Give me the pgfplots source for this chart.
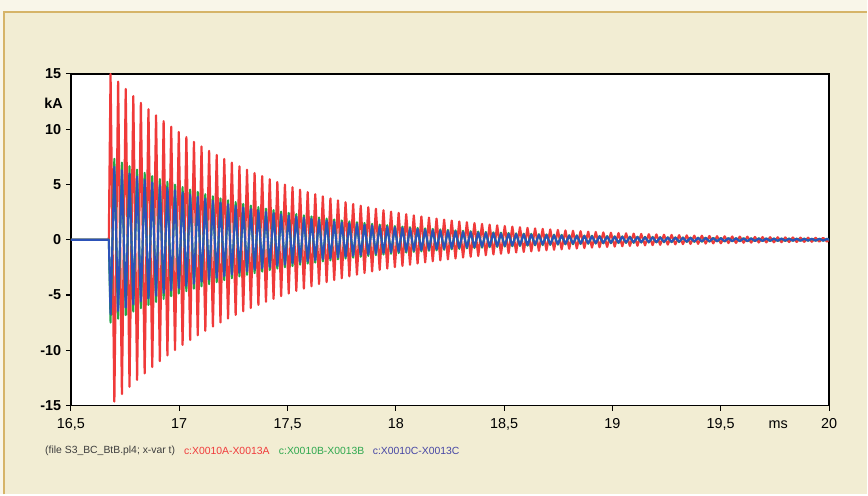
\documentclass[border=0pt]{standalone}
\usepackage{fontspec}
\setmainfont{Liberation Sans}
\usepackage{pgfplots}
\usepackage{pgfplotstable}
\pgfplotsset{compat=1.18}

\definecolor{bgbeige}{RGB}{242,237,211}
\definecolor{bgedge}{RGB}{249,246,233}
\definecolor{gold}{RGB}{214,180,104}
\definecolor{wred}{RGB}{240,58,58}
\definecolor{wgreen}{RGB}{34,166,72}
\definecolor{wblue}{RGB}{44,82,184}

% t in ms, currents in kA (peaks and troughs of each half cycle)
\pgfplotstableread{
t r g b
16.5 0 0 0
16.675 0 0 0
16.683 15.00 -7.50 -6.75
16.7005 -14.64 7.32 6.59
16.718 14.30 -7.15 -6.44
16.7355 -13.96 6.98 6.28
16.753 13.63 -6.82 -6.13
16.7705 -13.31 6.66 5.99
16.788 12.99 -6.50 -5.85
16.8055 -12.68 6.34 5.71
16.823 12.38 -6.19 -5.57
16.8405 -12.09 6.05 5.44
16.858 11.80 -5.90 -5.31
16.8755 -11.52 5.76 5.18
16.893 11.25 -5.63 -5.06
16.9105 -10.98 5.49 4.94
16.928 10.72 -5.36 -4.82
16.9455 -10.47 5.24 4.71
16.963 10.22 -5.11 -4.60
16.9805 -9.98 4.99 4.49
16.998 9.74 -4.87 -4.38
17.0155 -9.51 4.76 4.28
17.033 9.29 -4.65 -4.18
17.0505 -9.07 4.54 4.08
17.068 8.85 -4.43 -3.98
17.0855 -8.64 4.32 3.89
17.103 8.44 -4.22 -3.80
17.1205 -8.24 4.12 3.71
17.138 8.04 -4.02 -3.62
17.1555 -7.85 3.93 3.53
17.173 7.67 -3.84 -3.45
17.1905 -7.48 3.74 3.37
17.208 7.31 -3.66 -3.29
17.2255 -7.13 3.57 3.21
17.243 6.97 -3.49 -3.14
17.2605 -6.80 3.40 3.06
17.278 6.64 -3.32 -2.99
17.2955 -6.48 3.24 2.92
17.313 6.33 -3.17 -2.85
17.3305 -6.18 3.09 2.78
17.348 6.03 -3.02 -2.71
17.3655 -5.89 2.95 2.65
17.383 5.75 -2.88 -2.59
17.4005 -5.61 2.81 2.52
17.418 5.48 -2.74 -2.47
17.4355 -5.35 2.68 2.41
17.453 5.22 -2.61 -2.35
17.4705 -5.10 2.55 2.30
17.488 4.98 -2.49 -2.24
17.5055 -4.86 2.43 2.19
17.523 4.75 -2.38 -2.14
17.5405 -4.63 2.32 2.08
17.558 4.52 -2.26 -2.03
17.5755 -4.42 2.21 1.99
17.593 4.31 -2.16 -1.94
17.6105 -4.21 2.11 1.89
17.628 4.11 -2.06 -1.85
17.6455 -4.01 2.01 1.80
17.663 3.92 -1.96 -1.76
17.6805 -3.83 1.92 1.72
17.698 3.73 -1.87 -1.68
17.7155 -3.65 1.83 1.64
17.733 3.56 -1.78 -1.60
17.7505 -3.48 1.74 1.57
17.768 3.39 -1.70 -1.53
17.7855 -3.31 1.66 1.49
17.803 3.23 -1.62 -1.45
17.8205 -3.16 1.58 1.42
17.838 3.08 -1.54 -1.39
17.8555 -3.01 1.51 1.35
17.873 2.94 -1.47 -1.32
17.8905 -2.87 1.44 1.29
17.908 2.80 -1.40 -1.26
17.9255 -2.73 1.37 1.23
17.943 2.67 -1.34 -1.20
17.9605 -2.61 1.31 1.17
17.978 2.54 -1.27 -1.14
17.9955 -2.48 1.24 1.12
18.013 2.43 -1.22 -1.09
18.0305 -2.37 1.19 1.07
18.048 2.31 -1.16 -1.04
18.0655 -2.26 1.13 1.02
18.083 2.20 -1.10 -0.99
18.1005 -2.15 1.08 0.97
18.118 2.10 -1.05 -0.95
18.1355 -2.05 1.03 0.92
18.153 2.00 -1.00 -0.90
18.1705 -1.95 0.98 0.88
18.188 1.91 -0.96 -0.86
18.2055 -1.86 0.93 0.84
18.223 1.82 -0.91 -0.82
18.2405 -1.78 0.89 0.80
18.258 1.73 -0.87 -0.78
18.2755 -1.69 0.85 0.76
18.293 1.65 -0.83 -0.74
18.3105 -1.61 0.81 0.72
18.328 1.58 -0.79 -0.71
18.3455 -1.54 0.77 0.69
18.363 1.50 -0.75 -0.68
18.3805 -1.47 0.74 0.66
18.398 1.43 -0.72 -0.64
18.4155 -1.40 0.70 0.63
18.433 1.36 -0.68 -0.61
18.4505 -1.33 0.67 0.60
18.468 1.30 -0.65 -0.59
18.4855 -1.27 0.64 0.57
18.503 1.24 -0.62 -0.56
18.5205 -1.21 0.61 0.54
18.538 1.18 -0.59 -0.53
18.5555 -1.15 0.58 0.52
18.573 1.13 -0.57 -0.51
18.5905 -1.10 0.55 0.50
18.608 1.07 -0.54 -0.48
18.6255 -1.05 0.53 0.47
18.643 1.02 -0.51 -0.46
18.6605 -1.00 0.50 0.45
18.678 0.98 -0.49 -0.44
18.6955 -0.95 0.48 0.43
18.713 0.93 -0.47 -0.42
18.7305 -0.91 0.46 0.41
18.748 0.89 -0.45 -0.40
18.7655 -0.87 0.44 0.39
18.783 0.84 -0.42 -0.38
18.8005 -0.82 0.41 0.37
18.818 0.81 -0.41 -0.36
18.8355 -0.79 0.40 0.36
18.853 0.77 -0.39 -0.35
18.8705 -0.75 0.38 0.34
18.888 0.73 -0.37 -0.33
18.9055 -0.71 0.36 0.32
18.923 0.70 -0.35 -0.32
18.9405 -0.68 0.34 0.31
18.958 0.66 -0.33 -0.30
18.9755 -0.65 0.33 0.29
18.993 0.63 -0.32 -0.28
19.0105 -0.62 0.31 0.28
19.028 0.60 -0.30 -0.27
19.0455 -0.59 0.30 0.27
19.063 0.58 -0.29 -0.26
19.0805 -0.56 0.28 0.25
19.098 0.55 -0.28 -0.25
19.1155 -0.54 0.27 0.24
19.133 0.52 -0.26 -0.23
19.1505 -0.51 0.26 0.23
19.168 0.50 -0.25 -0.23
19.1855 -0.49 0.25 0.22
19.203 0.48 -0.24 -0.22
19.2205 -0.46 0.23 0.21
19.238 0.45 -0.23 -0.20
19.2555 -0.44 0.22 0.20
19.273 0.43 -0.22 -0.19
19.2905 -0.42 0.21 0.19
19.308 0.41 -0.21 -0.18
19.3255 -0.40 0.20 0.18
19.343 0.39 -0.20 -0.18
19.3605 -0.38 0.19 0.17
19.378 0.37 -0.19 -0.17
19.3955 -0.37 0.19 0.17
19.413 0.36 -0.18 -0.16
19.4305 -0.35 0.18 0.16
19.448 0.34 -0.17 -0.15
19.4655 -0.33 0.17 0.15
19.483 0.32 -0.16 -0.14
19.5005 -0.32 0.16 0.14
19.518 0.31 -0.16 -0.14
19.5355 -0.30 0.15 0.14
19.553 0.29 -0.15 -0.13
19.5705 -0.29 0.15 0.13
19.588 0.28 -0.14 -0.13
19.6055 -0.27 0.14 0.12
19.623 0.27 -0.14 -0.12
19.6405 -0.26 0.13 0.12
19.658 0.25 -0.13 -0.11
19.6755 -0.25 0.13 0.11
19.693 0.24 -0.12 -0.11
19.7105 -0.24 0.12 0.11
19.728 0.23 -0.12 -0.10
19.7455 -0.23 0.12 0.10
19.763 0.22 -0.11 -0.10
19.7805 -0.22 0.11 0.10
19.798 0.21 -0.11 -0.09
19.8155 -0.21 0.11 0.09
19.833 0.20 -0.10 -0.09
19.8505 -0.20 0.10 0.09
19.868 0.19 -0.10 -0.09
19.8855 -0.19 0.10 0.09
19.903 0.18 -0.09 -0.08
19.9205 -0.18 0.09 0.08
19.938 0.17 -0.09 -0.08
19.9555 -0.17 0.09 0.08
19.973 0.17 -0.09 -0.08
19.9905 -0.16 0.08 0.07
20.0 0 0 0
}\wave

\begin{document}
\begin{tikzpicture}
% panel background and frame (1 px of the reference = 0.75pt)
\begin{scope}[x=0.75pt, y=0.75pt]
\fill[bgedge] (0,0) rectangle (868,495);
\fill[bgbeige] (4,0) rectangle (868,483);
\draw[gold, line width=1.5pt] (4,0) -- (4,483) -- (868,483);
\end{scope}

\begin{axis}[
  at={(53.25pt,66.75pt)}, anchor=south west,
  scale only axis,
  width=569.25pt, height=249pt,
  xmin=16.5, xmax=20, ymin=-15, ymax=15,
  xtick={16.5,17,17.5,18,18.5,19,19.5,20},
  ytick={-15,-10,-5,0,5,10,15},
  axis background/.style={fill=white},
  axis line style={black, line width=1.2pt},
  tick style={black, line width=0.8pt},
  major tick length=3.75pt,
  tick align=outside, xtick pos=bottom, ytick pos=left,
  /pgf/number format/.cd, use comma, 1000 sep={}, assume math mode=true,
  /pgfplots/.cd,
  xticklabel style={font=\fontsize{10.8}{12}\selectfont, black, yshift=-2.5pt},
  yticklabel style={font=\bfseries\fontsize{10.8}{12}\selectfont, black},
]
\addplot[wred, line width=1.65pt, line join=round] table[x=t, y=r]{\wave};
\addplot[wgreen, line width=1.55pt, line join=round] table[x=t, y=g]{\wave};
\addplot[wblue, line width=1.55pt, line join=round] table[x=t, y=b]{\wave};
\end{axis}

\begin{scope}[x=0.75pt, y=0.75pt]
\node[anchor=east, inner sep=0pt, font=\bfseries\fontsize{10.8}{12}\selectfont] at (63,392) {kA};
\node[inner sep=0pt, font=\fontsize{10.8}{12}\selectfont] at (779,70) {ms};
\node[anchor=west, inner sep=0pt, text={rgb,255:red,60;green,60;blue,60}, font=\fontsize{7.8}{9}\selectfont] at (45,44) {(file S3\_BC\_BtB.pl4; x-var t)};
\node[anchor=west, inner sep=0pt, text=wred, font=\fontsize{7.8}{9}\selectfont] at (184,44) {c:X0010A-X0013A};
\node[anchor=west, inner sep=0pt, text={rgb,255:red,46;green,168;blue,78}, font=\fontsize{7.8}{9}\selectfont] at (279,44) {c:X0010B-X0013B};
\node[anchor=west, inner sep=0pt, text={rgb,255:red,70;green,70;blue,165}, font=\fontsize{7.8}{9}\selectfont] at (373,44) {c:X0010C-X0013C};
\end{scope}
\end{tikzpicture}
\end{document}
